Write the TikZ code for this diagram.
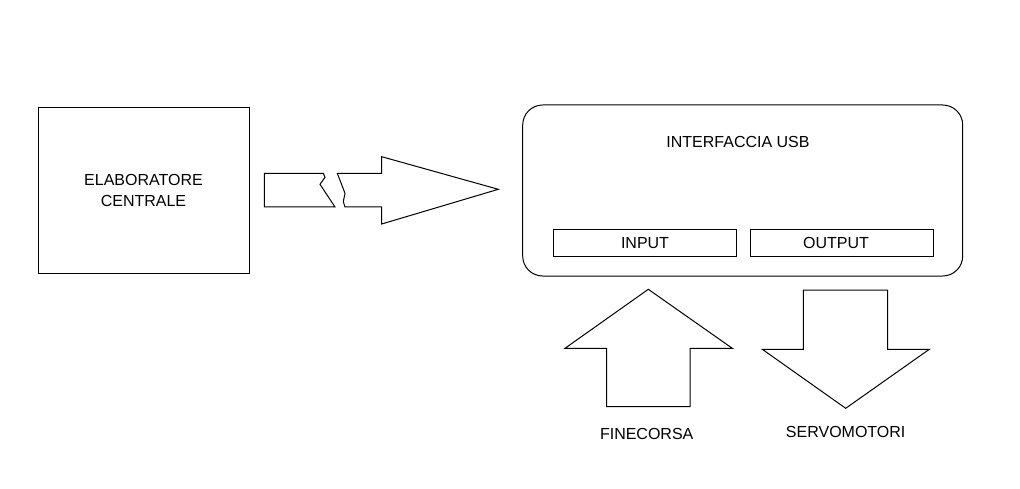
\documentclass[tikz,border=0pt]{standalone}
\usepackage{fontspec}
\setmainfont{Liberation Sans}
\tikzset{
  box/.style={draw, line width=1pt, inner sep=0pt, align=center, font=\fontsize{16}{21}\selectfont},
  lbl/.style={inner sep=0pt, font=\fontsize{16}{21}\selectfont},
  shape line/.style={draw, line width=1pt, line join=miter}
}
\begin{document}
\begin{tikzpicture}[x=1pt,y=-1pt]
\useasboundingbox[fill=white] (0,0) rectangle (1020,489);
% left box
\node[box, minimum width=211pt, minimum height=165pt] (elab) at (143.5,190.5) {ELABORATORE\\CENTRALE};
% interface box
\node[box, rounded corners=20pt, minimum width=440pt, minimum height=171pt] (usb) at (742.7,190.5) {};
\node[lbl] (usbt) at (738,141.7) {INTERFACCIA USB};
\node[box, minimum width=183.4pt, minimum height=27.4pt] (in) at (645,243) {\raisebox{1pt}{INPUT}};
\node[box, minimum width=182.6pt, minimum height=27.4pt] (out) at (842,243) {\hspace*{-12pt}OUTPUT};
% broken arrow
\draw[shape line] (323.3,173.3) -- (264.3,173.3) -- (264.3,207) -- (335,207)
  -- (320,184.3) -- (325,177.3) -- cycle;
\draw[shape line] (337.3,173.3) -- (381.7,173.3) -- (381.7,156.7) -- (498.3,189.3)
  -- (381.7,224) -- (381.7,207) -- (345,207) -- (343.3,201.7) -- (345,193.3) -- cycle;
% up arrow
\draw[shape line] (648.3,289.3) -- (732.3,348.3) -- (690,348.3) -- (690,406.7)
  -- (606.7,406.7) -- (606.7,348.3) -- (565,348.3) -- cycle;
% down arrow
\draw[shape line] (803.3,290) -- (887.7,290) -- (887.7,349.3) -- (929.3,349.3)
  -- (845.7,408.3) -- (762.3,349.3) -- (803.3,349.3) -- cycle;
\node[lbl] (fine) at (646.7,434) {FINECORSA};
\node[lbl] (servo) at (845.7,431.7) {SERVOMOTORI};
\end{tikzpicture}
\end{document}
